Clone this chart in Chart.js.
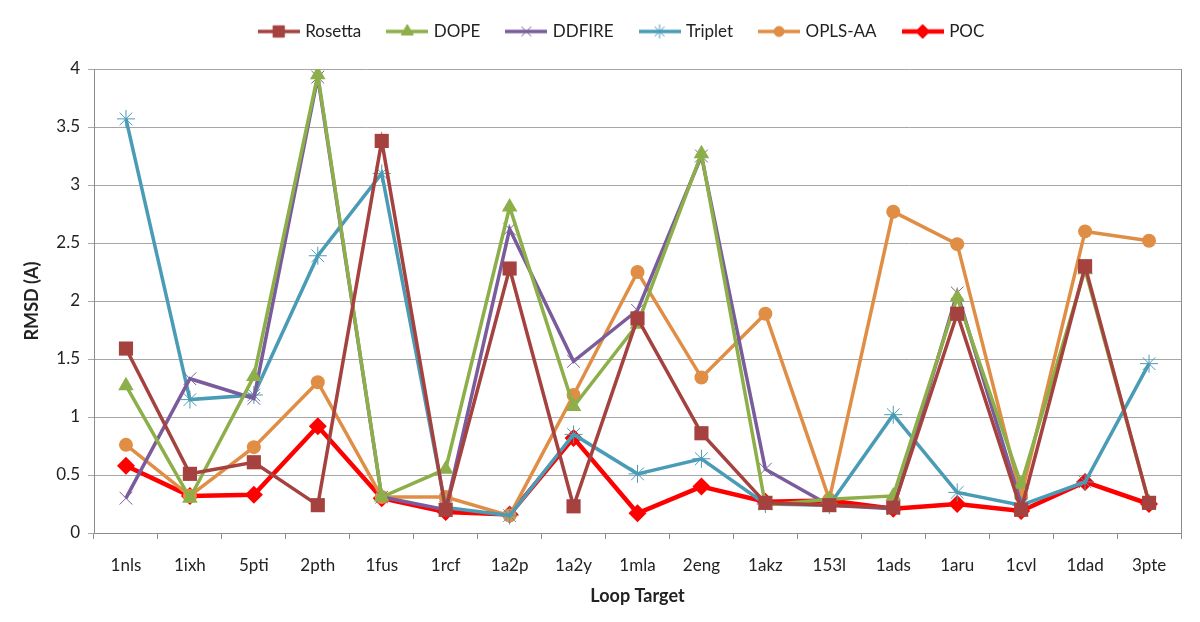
<!DOCTYPE html>
<html>
<head>
<meta charset="utf-8">
<script src="https://cdn.jsdelivr.net/npm/chart.js@4.4.1/dist/chart.umd.min.js"></script>
<style>
  html, body { margin: 0; padding: 0; background: #fff; }
  #wrap { width: 1200px; height: 622px; }
</style>
</head>
<body>
<div id="wrap"><canvas id="chart" width="1200" height="622"></canvas></div>
<script>
// === Data ===
const targets = ['1nls', '1ixh', '5pti', '2pth', '1fus', '1rcf', '1a2p', '1a2y', '1mla', '2eng', '1akz', '153l', '1ads', '1aru', '1cvl', '1dad', '3pte'];

const rosetta = [1.59, 0.51, 0.61, 0.24, 3.38, 0.20, 2.28, 0.23, 1.85, 0.86, 0.26, 0.24, 0.22, 1.89, 0.20, 2.30, 0.26];
const dope    = [1.27, 0.30, 1.35, 3.95, 0.31, 0.55, 2.81, 1.09, 1.80, 3.27, 0.24, 0.29, 0.32, 2.03, 0.42, 2.27, 0.26];
const ddfire  = [0.30, 1.33, 1.16, 3.93, 0.31, 0.20, 2.62, 1.48, 1.92, 3.25, 0.55, 0.24, 0.21, 2.07, 0.25, null, null];
const triplet = [3.57, 1.15, 1.19, 2.39, 3.10, 0.22, 0.15, 0.85, 0.51, 0.64, 0.25, 0.24, 1.02, 0.35, 0.24, 0.44, 1.46];
const oplsaa  = [0.76, 0.32, 0.74, 1.30, 0.31, 0.31, 0.15, 1.19, 2.25, 1.34, 1.89, 0.29, 2.77, 2.49, 0.32, 2.60, 2.52];
const poc     = [0.58, 0.32, 0.33, 0.92, 0.30, 0.18, 0.16, 0.82, 0.17, 0.40, 0.27, 0.28, 0.21, 0.25, 0.19, 0.44, 0.25];

const yTicks = [0, 0.5, 1, 1.5, 2, 2.5, 3, 3.5, 4];

const FONT = 'Lato, "Open Sans", Arial, sans-serif';

// === Series styles ===
const SERIES = [
    { label: 'Rosetta', data: rosetta, color: '#A5423F', point: 'rect',     radius: 10, width: 3.5 },
    { label: 'DOPE',    data: dope,    color: '#8CAF4A', point: 'triangle', radius: 9,  width: 3.5 },
    { label: 'DDFIRE',  data: ddfire,  color: '#7A5C9C', point: 'crossRot', radius: 9,  width: 3.5 },
    { label: 'Triplet', data: triplet, color: '#4A9CB6', point: 'star',     radius: 9,  width: 3.5 },
    { label: 'OPLS-AA', data: oplsaa,  color: '#E08E45', point: 'circle',   radius: 7,  width: 3.5 },
    { label: 'POC',     data: poc,     color: '#FF0000', point: 'rectRot',  radius: 9,  width: 4.5 },
];

// small line+marker icons for the legend
function legendIcon(s) {
    const c = document.createElement('canvas');
    c.width = 42; c.height = 16;
    const ctx = c.getContext('2d');
    ctx.strokeStyle = s.color;
    ctx.lineWidth = s.width;
    ctx.beginPath(); ctx.moveTo(0, 8); ctx.lineTo(42, 8); ctx.stroke();
    ctx.fillStyle = s.color;
    ctx.lineWidth = 1;
    Chart.helpers.drawPoint(ctx, { pointStyle: s.point, radius: s.radius - 2, borderWidth: 1 }, 21, 8);
    if (s.point !== 'crossRot' && s.point !== 'star') ctx.fill();
    return c;
}

const datasets = SERIES.map(s => ({
    label: s.label,
    data: s.data,
    borderColor: s.color,
    backgroundColor: s.color,
    borderWidth: s.width,
    pointStyle: s.point,
    pointRadius: s.radius,
    pointHoverRadius: s.radius,
    pointBorderWidth: (s.point === 'crossRot' || s.point === 'star') ? 1 : 0,
    pointBorderColor: s.color,
    pointBackgroundColor: s.color,
    tension: 0,
    spanGaps: false,
}));

const icons = SERIES.map(legendIcon);

// legend height/offset + right edge of plot frame
const layoutPlugin = {
    id: 'layoutFix',
    beforeInit(chart) {
        const legend = chart.legend;
        const origFit = legend.fit;
        legend.fit = function () {
            origFit.bind(legend)();
            this.height = 69;
        };
        const origDraw = legend.draw;
        legend.draw = function () {
            chart.ctx.save();
            chart.ctx.translate(32, -5);
            origDraw.call(legend);
            chart.ctx.restore();
        };
    },
    afterDraw(chart) {
        const a = chart.chartArea;
        const ctx = chart.ctx;
        ctx.save();
        ctx.strokeStyle = '#8c8c8c';
        ctx.lineWidth = 1;
        ctx.beginPath();
        ctx.moveTo(a.right + 0.5, a.top);
        ctx.lineTo(a.right + 0.5, a.bottom);
        ctx.stroke();
        ctx.restore();
    }
};

new Chart(document.getElementById('chart'), {
    type: 'line',
    data: { labels: targets, datasets },
    plugins: [layoutPlugin],
    options: {
        responsive: false,
        animation: false,
        layout: { padding: { left: 0, right: 19, top: 0, bottom: 0 } },
        plugins: {
            tooltip: { enabled: false },
            legend: {
                position: 'top',
                labels: {
                    usePointStyle: true,
                    pointStyleWidth: 36,
                    padding: 28,
                    color: '#222',
                    font: { family: FONT, size: 17 },
                    generateLabels: (chart) => {
                        const items = Chart.defaults.plugins.legend.labels.generateLabels(chart);
                        items.forEach((it, i) => { it.pointStyle = icons[i]; });
                        return items;
                    }
                }
            }
        },
        scales: {
            x: {
                offset: true,
                afterFit: (scale) => { scale.height = 89; },
                grid: {
                    offset: true,
                    drawOnChartArea: false,
                    drawTicks: true,
                    tickLength: 6,
                    color: '#8c8c8c'
                },
                border: { color: '#8c8c8c' },
                ticks: {
                    color: '#222',
                    padding: 16,
                    maxRotation: 0,
                    autoSkip: false,
                    font: { family: FONT, size: 17 }
                },
                title: {
                    display: true,
                    text: 'Loop Target',
                    color: '#222',
                    padding: { top: 0, bottom: 15 },
                    font: { family: FONT, size: 18, weight: 'bold' }
                }
            },
            y: {
                min: 0,
                max: 4,
                afterFit: (scale) => { scale.width = 94; },
                afterBuildTicks: (scale) => { scale.ticks = yTicks.map(v => ({ value: v })); },
                grid: {
                    color: '#a6a6a6',
                    tickLength: 6,
                    drawTicks: true
                },
                border: { color: '#8c8c8c' },
                ticks: {
                    color: '#222',
                    padding: 8,
                    font: { family: FONT, size: 17 },
                    callback: (v) => String(v)
                },
                title: {
                    display: true,
                    text: 'RMSD (A)',
                    color: '#222',
                    padding: { top: 21, bottom: 0 },
                    font: { family: FONT, size: 18, weight: 'bold' }
                }
            }
        }
    }
});
</script>
</body>
</html>
